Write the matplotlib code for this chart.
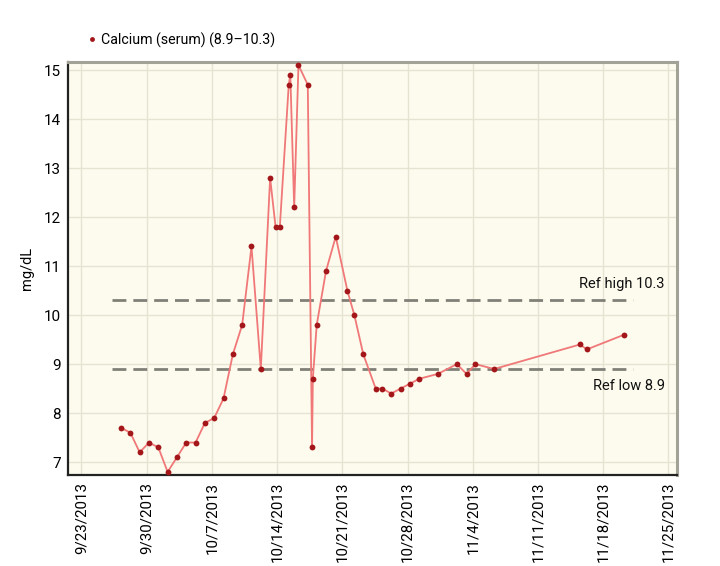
import matplotlib
matplotlib.use("Agg")
import matplotlib.pyplot as plt
from matplotlib.lines import Line2D
import pandas as pd

plt.rcParams['font.family'] = ['Roboto', 'DejaVu Sans']

# ---- data ----
dates = [
    "2013-09-27 06:00", "2013-09-28 06:00", "2013-09-29 06:00", "2013-09-30 06:00",
    "2013-10-01 06:00", "2013-10-02 06:00", "2013-10-03 06:00", "2013-10-04 06:00",
    "2013-10-05 06:00", "2013-10-06 06:00", "2013-10-07 06:00", "2013-10-08 06:00",
    "2013-10-09 06:00", "2013-10-10 06:00", "2013-10-11 06:00", "2013-10-12 06:00",
    "2013-10-13 06:00", "2013-10-13 20:00", "2013-10-14 07:00", "2013-10-15 06:00",
    "2013-10-15 10:00", "2013-10-15 20:00", "2013-10-16 07:00", "2013-10-17 07:00",
    "2013-10-17 18:00", "2013-10-17 20:00", "2013-10-18 06:00", "2013-10-19 06:00",
    "2013-10-20 07:00", "2013-10-21 13:00", "2013-10-22 07:00", "2013-10-23 06:00",
    "2013-10-24 14:00", "2013-10-25 07:00", "2013-10-26 06:00", "2013-10-27 06:00",
    "2013-10-28 06:00", "2013-10-29 06:00", "2013-10-31 06:00", "2013-11-02 07:00",
    "2013-11-03 08:00", "2013-11-04 07:00", "2013-11-06 07:00", "2013-11-15 12:00",
    "2013-11-16 06:00", "2013-11-20 06:00",
]
calcium = [
    7.7, 7.6, 7.2, 7.4, 7.3, 6.8, 7.1, 7.4, 7.4, 7.8, 7.9, 8.3,
    9.2, 9.8, 11.4, 8.9, 12.8, 11.8, 11.8, 14.7, 14.9, 12.2, 15.1, 14.7,
    7.3, 8.7, 9.8, 10.9, 11.6, 10.5, 10.0, 9.2, 8.5, 8.5, 8.4, 8.5,
    8.6, 8.7, 8.8, 9.0, 8.8, 9.0, 8.9, 9.4, 9.3, 9.6,
]
ref_low = 8.9
ref_high = 10.3
ref_start = "2013-09-26 06:00"
ref_end = "2013-11-21 05:00"
tick_dates = ["2013-09-23", "2013-09-30", "2013-10-07", "2013-10-14", "2013-10-21",
              "2013-10-28", "2013-11-04", "2013-11-11", "2013-11-18", "2013-11-25"]
tick_labels = ["9/23/2013", "9/30/2013", "10/7/2013", "10/14/2013", "10/21/2013",
               "10/28/2013", "11/4/2013", "11/11/2013", "11/18/2013", "11/25/2013"]
legend_label = "Calcium (serum) (8.9\u201310.3)"

# ---- figure ----
fig = plt.figure(figsize=(7.2, 5.66), dpi=100)
ax = fig.add_axes([0.094, 0.161, 0.846, 0.730])
ax.set_facecolor("#fdfbee")

x = pd.to_datetime(dates)
line_color = "#f07878"
marker_color = "#a3161a"
ax.plot(x, calcium, color=line_color, lw=1.3, zorder=3)
ax.plot(x, calcium, linestyle="none", marker="o", markersize=4.2,
        markerfacecolor=marker_color, markeredgewidth=0, zorder=4)

rs, re_ = pd.to_datetime(ref_start), pd.to_datetime(ref_end)
for v in (ref_high, ref_low):
    ax.plot([rs, re_], [v, v], color="#808078", lw=2, dashes=(5, 2.5), zorder=2)

xt = pd.to_datetime(tick_dates)
ax.set_xticks(xt)
ax.set_xticklabels(tick_labels, rotation=90, fontsize=10.8)
ax.set_xlim(xt[0] - pd.Timedelta(hours=35.5), xt[-1] + pd.Timedelta(hours=21.6))
ax.set_ylim(6.74, 15.17)
ax.set_yticks(range(7, 16))
ax.tick_params(axis="y", labelsize=11, length=0, pad=5)
ax.tick_params(axis="x", length=0, pad=5)
ax.set_ylabel("mg/dL", fontsize=10.5, labelpad=7)

ax.grid(True, color="#e6e3d2", lw=1.0, zorder=0)
ax.set_axisbelow(True)

for s in ("left", "bottom"):
    ax.spines[s].set_color("#222222")
    ax.spines[s].set_linewidth(1.6)
for s in ("top", "right"):
    ax.spines[s].set_color("#a3a296")
    ax.spines[s].set_linewidth(2.2)

ax.text(xt[-1] - pd.Timedelta(hours=9), ref_high + 0.33, "Ref high %.1f" % ref_high,
        ha="right", va="center", fontsize=10.5, color="#111111")
ax.text(xt[-1] - pd.Timedelta(hours=9), ref_low - 0.35, "Ref low %.1f" % ref_low,
        ha="right", va="center", fontsize=10.5, color="#111111")

handle = Line2D([], [], linestyle="none", marker="o", markersize=3.5,
                markerfacecolor=marker_color, markeredgewidth=0)
fig.legend(handles=[handle], labels=[legend_label], loc="center left",
           bbox_to_anchor=(0.122, 0.929), frameon=False, fontsize=10.2,
           handlelength=0.6, handletextpad=0.3, borderaxespad=0, borderpad=0)

fig.savefig("out.png", dpi=100)
